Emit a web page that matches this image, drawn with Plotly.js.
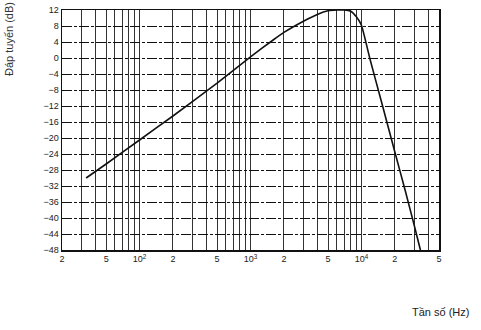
<!DOCTYPE html>
<html>
<head>
<meta charset="utf-8">
<script src="https://cdn.plot.ly/plotly-3.0.1.min.js"></script>
<style>html,body{margin:0;padding:0;background:#fff;}#chart{width:481px;height:330px;}</style>
</head>
<body>
<div id="chart"></div>
<script>
// Frequency (Hz) and response (dB)
const freqHz = [33, 50, 100, 200, 500, 1000, 1600, 2000, 3000, 4000, 5000, 6000, 7000, 8000, 9000, 10000, 12000, 15000, 20000, 25000, 30000, 34000];
const responseDb = [-30, -26.5, -20.5, -14.5, -6.3, 0.3, 4.5, 6.4, 9.2, 10.9, 11.8, 12, 12, 11.7, 10.3, 8.2, -0.5, -10.5, -23.5, -33.5, -42, -48];

// Axis ticks
const xTickVals = [20, 50, 100, 200, 500, 1000, 2000, 5000, 10000, 20000, 50000];
const xTickText = ["2", "5", "10<sup>2</sup>", "2", "5", "10<sup>3</sup>", "2", "5", "10<sup>4</sup>", "2", "5"];
const xMinorVals = [30, 40, 60, 70, 80, 90, 300, 400, 600, 700, 800, 900, 3000, 4000, 6000, 7000, 8000, 9000, 30000, 40000];
const yTickVals = [12, 8, 4, 0, -4, -8, -12, -16, -20, -24, -28, -32, -36, -40, -44, -48];

const yTitle = "Đáp tuyến (dB)";
const xTitle = "Tần số (Hz)";

const trace = {
  x: freqHz, y: responseDb, type: 'scatter', mode: 'lines',
  line: {color: '#111', width: 1.6, shape: 'spline', smoothing: 0.4},
  cliponaxis: false,
  hoverinfo: 'skip'
};

const layout = {
  width: 481, height: 330,
  margin: {l: 62, r: 42, t: 10, b: 80},
  paper_bgcolor: '#fff', plot_bgcolor: '#fff',
  showlegend: false,
  font: {family: 'Liberation Sans, Arial, sans-serif', color: '#222', size: 9},
  xaxis: {
    type: 'log', range: [Math.log10(20), Math.log10(50000)],
    tickmode: 'array', tickvals: xTickVals, ticktext: xTickText,
    ticks: '', showgrid: true, gridcolor: '#333', gridwidth: 1,
    minor: {tickmode: 'array', tickvals: xMinorVals, showgrid: true, gridcolor: '#333', gridwidth: 1, ticks: ''},
    showline: true, mirror: true, linecolor: '#111', linewidth: 1.5,
    zeroline: false, tickfont: {size: 9, color: '#222'}
  },
  yaxis: {
    range: [-48, 12], tickmode: 'array', tickvals: yTickVals,
    ticks: '', showgrid: true, gridcolor: '#111', gridwidth: 1, griddash: '10px,2px,3px,2px',
    showline: true, mirror: true, linecolor: '#111', linewidth: 1.5,
    zeroline: false, tickfont: {size: 9, color: '#222'}
  },
  annotations: [
    {text: yTitle, xref: 'paper', yref: 'paper', x: -0.14, y: 0.88, textangle: -90,
     showarrow: false, xanchor: 'center', yanchor: 'middle', font: {size: 11, color: '#333'}},
    {text: xTitle, xref: 'paper', yref: 'paper', x: 1.085, y: -0.257,
     showarrow: false, xanchor: 'right', yanchor: 'middle', font: {size: 11, color: '#222'}}
  ]
};

Plotly.newPlot('chart', [trace], layout, {displayModeBar: false, staticPlot: true});
</script>
</body>
</html>
